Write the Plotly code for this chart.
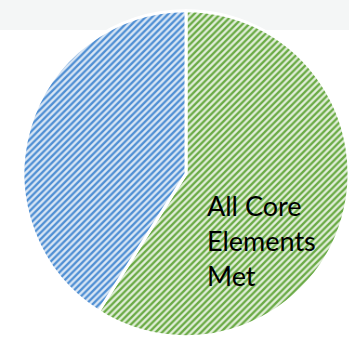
import plotly.graph_objects as go

labels = ["All Core Elements Met", "Not All Core Elements Met"]
values = [59, 41]
bg_colors = ["#e2efda", "#dae7f5"]
fg_colors = ["#6aaa45", "#4f8fd3"]
label_text = "All Core<br>Elements<br>Met"

fig = go.Figure()
fig.add_trace(go.Pie(
    labels=labels,
    values=values,
    sort=False,
    direction="clockwise",
    rotation=0,
    textinfo="none",
    hoverinfo="label+percent",
    showlegend=False,
    marker=dict(
        colors=bg_colors,
        line=dict(color="white", width=3),
        pattern=dict(shape=["/", "/"], fgcolor=fg_colors, bgcolor=bg_colors,
                     size=4.6, solidity=0.5),
    ),
    domain=dict(x=[0.066, 1.0], y=[0.03, 0.972]),
))

fig.add_shape(type="rect", xref="paper", yref="paper", x0=0, x1=1,
              y0=(348 - 30) / 348, y1=1, fillcolor="#f4f6f6",
              line=dict(width=0), layer="below")

fig.add_annotation(text=label_text, xref="paper", yref="paper",
                   x=205 / 349, y=(348 - 187) / 348, xanchor="left", yanchor="top",
                   align="left", showarrow=False,
                   font=dict(family="Lato", size=27, color="black"))

fig.update_layout(width=349, height=348, margin=dict(l=0, r=0, t=0, b=0),
                  paper_bgcolor="white", plot_bgcolor="white")

fig.write_html("out.html")
